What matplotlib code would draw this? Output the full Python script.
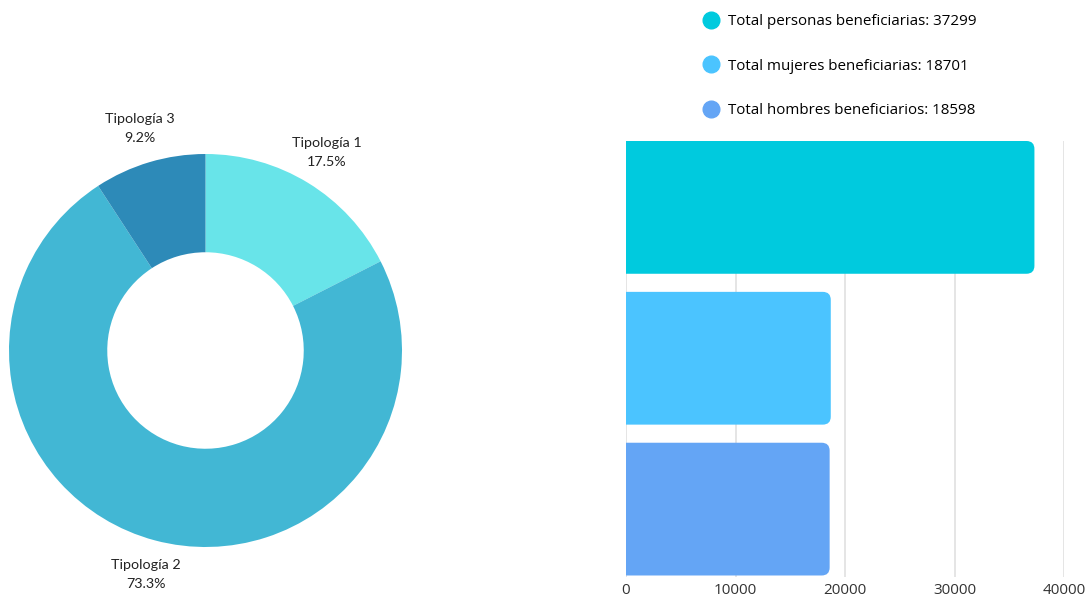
import numpy as np
import matplotlib.pyplot as plt
from matplotlib.patches import FancyBboxPatch
from matplotlib.lines import Line2D

# donut data
tipologias = ['Tipología 1', 'Tipología 2', 'Tipología 3']
porcentajes = [17.5, 73.3, 9.2]
colores_pie = ['#68E4E9', '#42B7D4', '#2D8AB8']

# bar data
categorias = ['Total personas beneficiarias', 'Total mujeres beneficiarias', 'Total hombres beneficiarios']
valores = [37299, 18701, 18598]
colores_bar = ['#00CADE', '#4BC4FF', '#64A5F5']
xticks = [0, 10000, 20000, 30000, 40000]

plt.rcParams['font.family'] = ['Open Sans', 'DejaVu Sans']

fig = plt.figure(figsize=(10.9, 5.99), dpi=100)

# ---- donut ----
W, H = 1090, 599
cx, cy, r = 205.5, 350.5, 196.5
L = 1.05
ax1 = fig.add_axes([(cx - r*L)/W, 1 - (cy + r*L)/H, 2*r*L/W, 2*r*L/H])
wedges, _ = ax1.pie(porcentajes, colors=colores_pie, startangle=90, counterclock=False,
                    wedgeprops=dict(width=0.5, linewidth=0))
ax1.set_xlim(-L, L)
ax1.set_ylim(-L, L)
ax1.set_aspect('equal')
for w, name, p in zip(wedges, tipologias, porcentajes):
    ang = np.deg2rad((w.theta1 + w.theta2) / 2)
    d = 1.18
    ax1.text(d*np.cos(ang), d*np.sin(ang), f'{name}\n{p}%', ha='center', va='center',
             fontsize=10.3, color='#222222', linespacing=1.7, family=['Lato', 'DejaVu Sans'])

# ---- bars ----
top_px, bot_px = 141, 577
ax2 = fig.add_axes([626/W, 1 - bot_px/H, 438/W, (bot_px - top_px)/H])
y = np.arange(len(valores))
bars = ax2.barh(y, valores, height=0.88, color=colores_bar)
ax2.set_xlim(0, 40000)
ax2.set_ylim(2.45, -0.44)
# rounded right ends
px_x = 40000 / 438
px_y = 2.89 / (bot_px - top_px)
rad = 8 * px_x
for b, c in zip(bars, colores_bar):
    b.set_visible(False)
    p = FancyBboxPatch((b.get_x() - 2*rad, b.get_y()), b.get_width() + 2*rad, b.get_height(),
                       boxstyle=f'round,pad=0,rounding_size={rad}',
                       mutation_aspect=px_y / px_x, facecolor=c, edgecolor='none', zorder=3)
    ax2.add_patch(p)
ax2.set_xticks(xticks)
ax2.set_xticklabels([str(t) for t in xticks], fontsize=11, color='#333333')
ax2.set_yticks([])
ax2.tick_params(axis='x', length=0, pad=4)
ax2.grid(axis='x', color='#E3E3E3', linewidth=1.3)
ax2.set_axisbelow(True)
for s in ax2.spines.values():
    s.set_visible(False)

handles = [Line2D([], [], linestyle='none', marker='o', markersize=12,
                  markerfacecolor=c, markeredgecolor=c) for c in colores_bar]
labels = [f'{n}: {v}' for n, v in zip(categorias, valores)]
fig.legend(handles, labels, loc='upper left', bbox_to_anchor=(694/W, 1 - 8/H),
           frameon=False, fontsize=10.9, labelspacing=1.95, handletextpad=0.35,
           handlelength=1.5, borderaxespad=0)

fig.savefig('out.png', dpi=100)
